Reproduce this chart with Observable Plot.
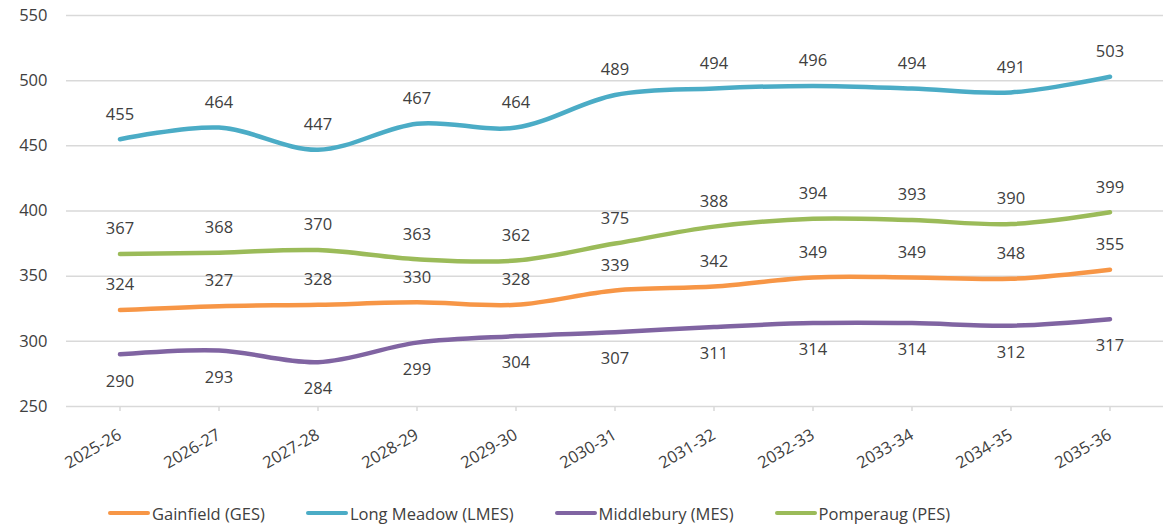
<!DOCTYPE html>
<html>
<head>
<meta charset="utf-8">
<script src="https://cdn.jsdelivr.net/npm/d3@7"></script>
<script src="https://cdn.jsdelivr.net/npm/@observablehq/plot@0.6"></script>
<style>
  html, body { margin: 0; padding: 0; background: #fff; }
  body { width: 1163px; height: 531px; overflow: hidden; font-family: "Open Sans", "Noto Sans", sans-serif; }
  #legend { display: flex; align-items: center; height: 36px; padding-left: 108px; font-size: 16.5px; color: #404040; }
  .item { display: flex; align-items: center; margin-right: 41px; }
  .sw { width: 42px; height: 4px; border-radius: 2px; margin-right: 2px; }
</style>
</head>
<body>
<div id="chart"></div>
<div id="legend"></div>
<script>
const years = ["2025-26","2026-27","2027-28","2028-29","2029-30","2030-31","2031-32","2032-33","2033-34","2034-35","2035-36"];
const seriesNames = ["Gainfield (GES)","Long Meadow (LMES)","Middlebury (MES)","Pomperaug (PES)"];
const colors = ["#F79646","#4BACC6","#8064A2","#9BBB59"];
const gainfield  = [324,327,328,330,328,339,342,349,349,348,355];
const longMeadow = [455,464,447,467,464,489,494,496,494,491,503];
const middlebury = [290,293,284,299,304,307,311,314,314,312,317];
const pomperaug  = [367,368,370,363,362,375,388,394,393,390,399];
const labelBelow = [false,false,true,false];
const yTicks = [250,300,350,400,450,500,550];

const allValues = [gainfield, longMeadow, middlebury, pomperaug];
const data = [];
allValues.forEach((vals, si) => vals.forEach((v, i) => data.push({series: seriesNames[si], year: years[i], value: v, below: labelBelow[si]})));

const FS = 16.5;
const chart = Plot.plot({
  width: 1163,
  height: 495,
  marginTop: 15,
  marginBottom: 89,
  marginLeft: 66,
  marginRight: 0,
  style: {fontFamily: '"Open Sans", "Noto Sans", sans-serif', fontSize: FS + "px", color: "#404040", background: "#fff"},
  x: {type: "band", domain: years, padding: 0, label: null},
  y: {domain: [250, 550], ticks: yTicks, label: null},
  color: {domain: seriesNames, range: colors},
  marks: [
    Plot.gridY(yTicks, {stroke: "#d9d9d9", strokeOpacity: 1, strokeWidth: 1.5}),
    Plot.axisY(yTicks, {tickSize: 0, tickPadding: 19, fontSize: FS, fill: "#404040", label: null}),
    Plot.axisX({tickSize: 5, stroke: "#d9d9d9", strokeWidth: 1.5, tickRotate: -30, tickPadding: 22, dx: 0, fontSize: FS, fill: "#404040", label: null}),
    Plot.lineY(data, {x: "year", y: "value", z: "series", stroke: "series", strokeWidth: 4.5, curve: "catmull-rom", strokeLinecap: "round"}),
    Plot.text(data.filter(d => !d.below), {x: "year", y: "value", text: d => String(d.value), dy: -25, fontSize: FS, fill: "#404040"}),
    Plot.text(data.filter(d => d.below), {x: "year", y: "value", text: d => String(d.value), dy: 27, fontSize: FS, fill: "#404040"})
  ]
});
document.getElementById("chart").appendChild(chart);

const legend = document.getElementById("legend");
seriesNames.forEach((n, i) => {
  const it = document.createElement("div");
  it.className = "item";
  const sw = document.createElement("div");
  sw.className = "sw";
  sw.style.background = colors[i];
  const t = document.createElement("span");
  t.textContent = n;
  it.appendChild(sw); it.appendChild(t);
  legend.appendChild(it);
});
</script>
</body>
</html>
